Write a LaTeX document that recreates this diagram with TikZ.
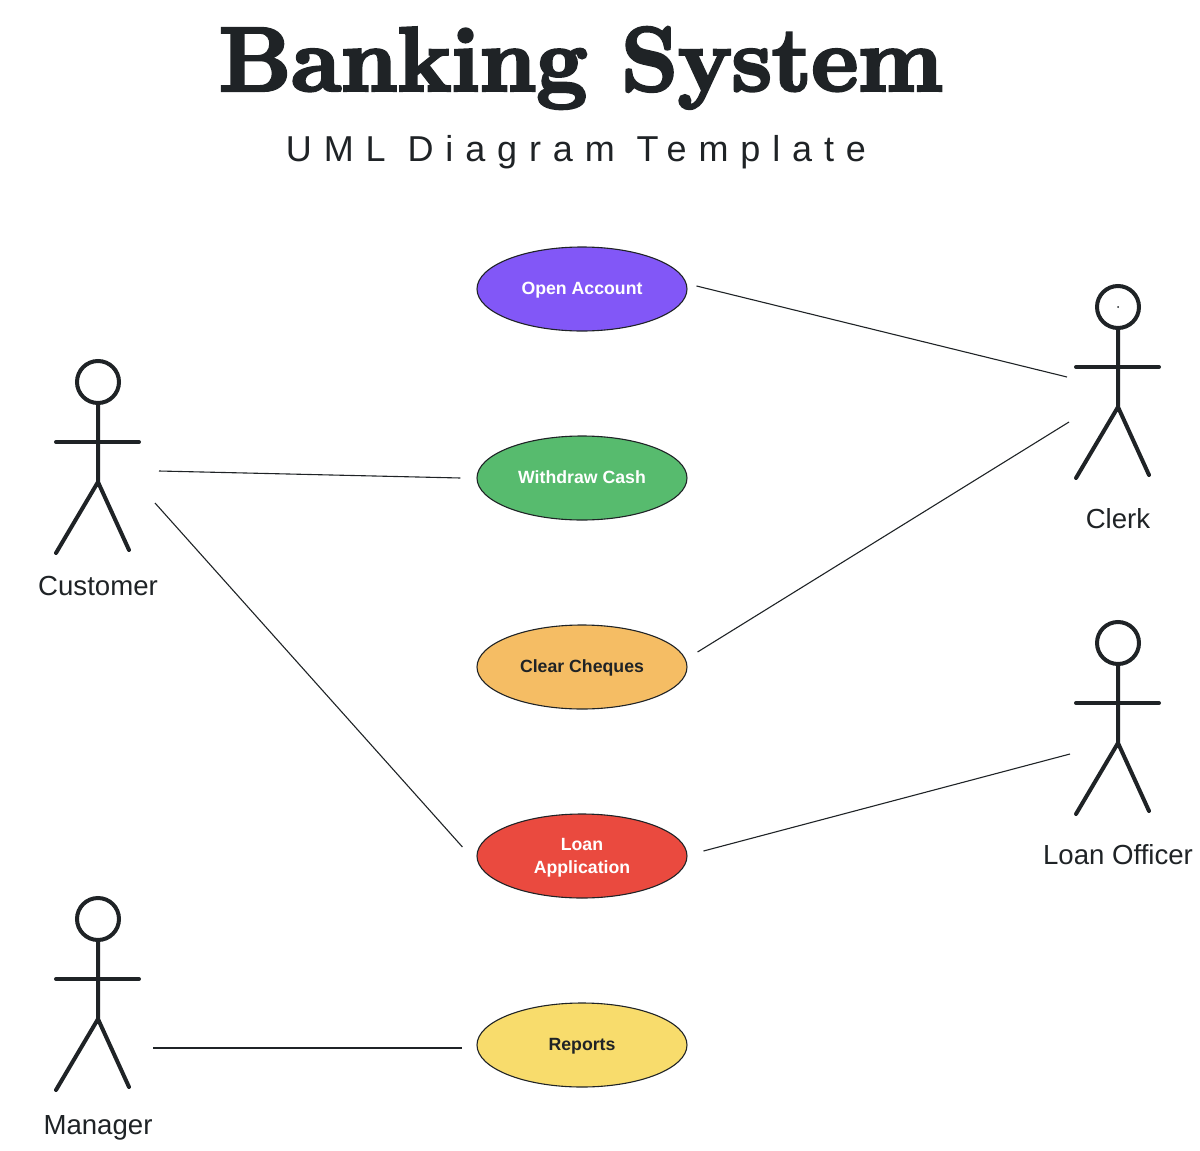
\documentclass[tikz,border=0pt]{standalone}
\usepackage{fontspec}
\setmainfont{Liberation Sans}
\newfontfamily\titlefont[FakeBold=3.5]{Latin Modern Roman}
\newfontfamily\subfont[LetterSpace=33]{Liberation Sans}
\usetikzlibrary{calc,shapes.geometric}
\definecolor{inkc}{HTML}{1F2326}
\definecolor{openc}{HTML}{8257F7}
\definecolor{withdrawc}{HTML}{57BB6E}
\definecolor{clearc}{HTML}{F5BD64}
\definecolor{loanc}{HTML}{EA4A3F}
\definecolor{reportc}{HTML}{F8DC6C}
\tikzset{
  usecase/.style={ellipse,draw=inkc,line width=0.55pt,minimum width=105pt,minimum height=42pt,
    inner sep=0pt,align=center,text height=6.5pt,text depth=1pt,
    font=\bfseries\fontsize{8.85}{11.5}\selectfont},
  actorhead/.style={circle,draw=inkc,line width=2pt,minimum size=21pt,inner sep=0pt},
  actorline/.style={draw=inkc,line width=2pt,line cap=round},
  actorname/.style={text=inkc,anchor=base,font=\fontsize{13.8}{16}\selectfont},
  link/.style={draw=inkc,line width=0.55pt}
}
\begin{document}
\begin{tikzpicture}[x=0.5pt,y=-0.5pt]
  \useasboundingbox (0,0) rectangle (1200,1151);
  \node[text=inkc,font=\titlefont\bfseries\fontsize{45.3}{50}\selectfont] (title) at (581,68) {Banking System};
  \node[text=inkc,font=\subfont\fontsize{18}{20}\selectfont] (subtitle) at (576,152) {UML Diagram Template};
  % use cases
  \node[usecase,fill=openc,text=white] (open) at (582,289) {Open Account};
  \node[usecase,fill=withdrawc,text=white] (withdraw) at (582,478) {Withdraw Cash};
  \node[usecase,fill=clearc,text=inkc] (clear) at (582,667) {Clear Cheques};
  \node[usecase,fill=loanc,text=white,text height=18pt] (loan) at (582,856) {Loan\\Application};
  \node[usecase,fill=reportc,text=inkc] (report) at (582,1045) {Reports};
  % actors: name, head x, head y, label y, label
  \foreach \n/\x/\y/\ly/\t in {customer/98/382/595/Customer,manager/98/919/1134/Manager,
      clerk/1118/307/528/Clerk,officer/1118/643/864/Loan Officer}{
    \node[actorhead] (\n) at (\x,\y) {};
    \draw[actorline] (\n.south) -- ++(0,77) coordinate (\n hip)
      -- ++(-42,71) (\n hip) -- ++(31,68);
    \draw[actorline] ($(\n)+(-42,60)$) -- ($(\n)+(41,60)$);
    \node[actorname] (\n name) at (\x,\ly) {\t};
  }
  \fill[inkc] (clerk) circle (1);
  % links
  \draw[link] ([shift={(9,-3)}]open.east) -- ([shift={(-51,70)}]clerk.center);
  \draw[link] ([shift={(61,89)}]customer.center) -- ([shift={(-16,0)}]withdraw.west);
  \draw[link] ([shift={(57,121)}]customer.center) -- ([shift={(-14,-9)}]loan.west);
  \draw[link] ([shift={(10,-15)}]clear.east) -- ([shift={(-49,115)}]clerk.center);
  \draw[link] ([shift={(16,-5)}]loan.east) -- ([shift={(-48,111)}]officer.center);
  \draw[link] ([shift={(55,129)}]manager.center) -- ([shift={(-14,3)}]report.west);
\end{tikzpicture}
\end{document}
